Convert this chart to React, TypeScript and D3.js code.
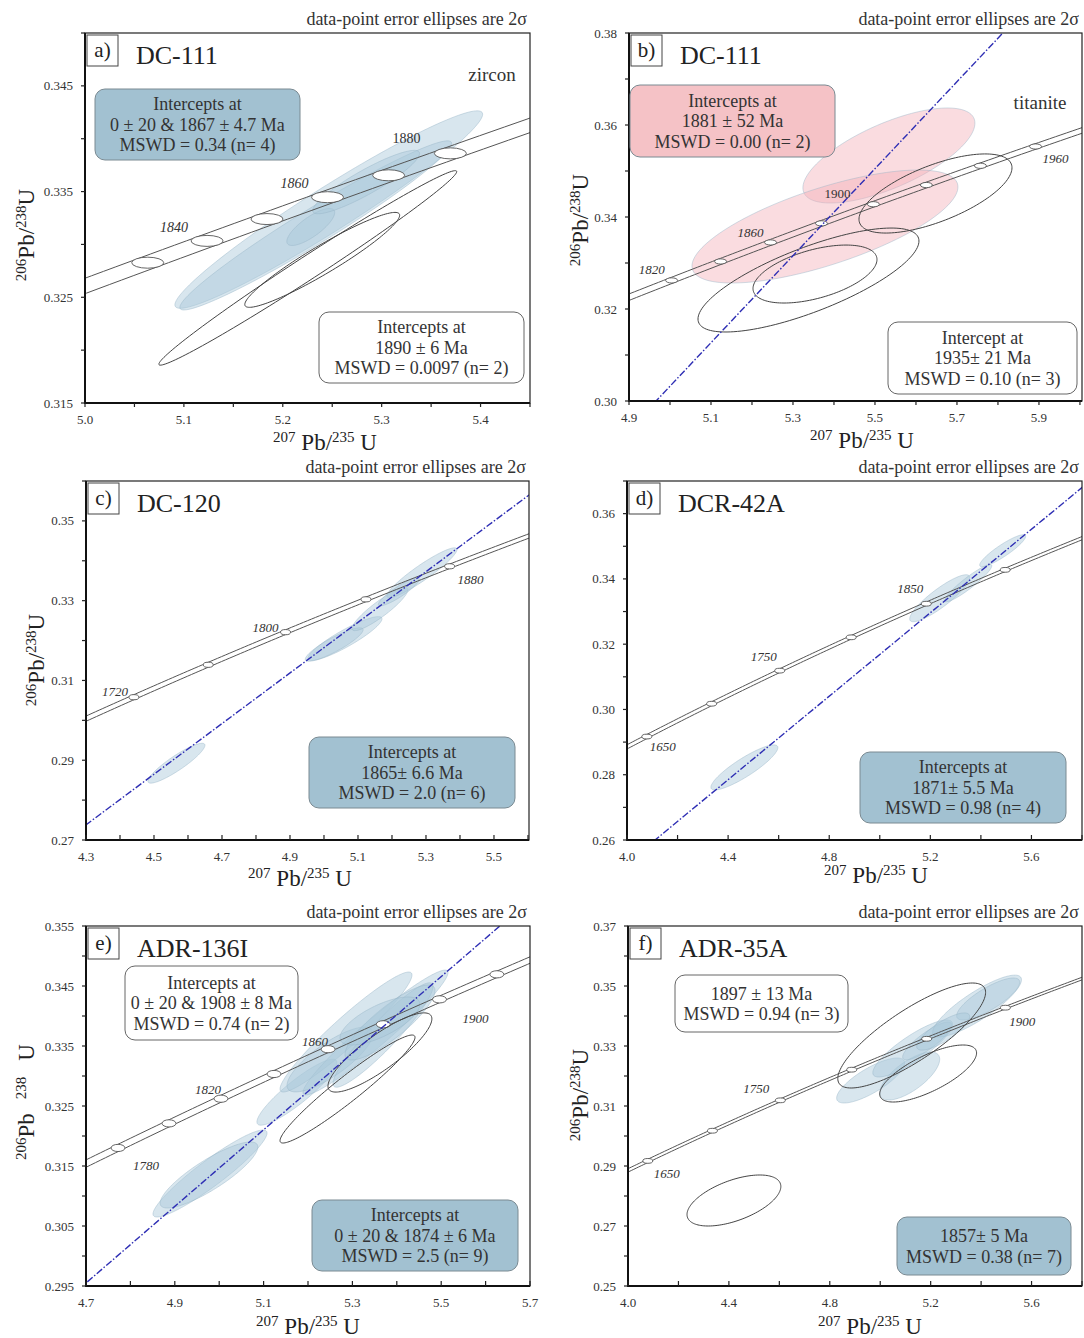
import React from 'react';
import * as d3 from 'd3';

const FONT = "'Liberation Serif', 'Times New Roman', Times, serif";
const LAMBDA238 = 1.55125e-4; // per Ma
const LAMBDA235 = 9.8485e-4; // per Ma

type Ell = [number, number, number, number, number]; // cx, cy, halfX, halfY, rho

// ---------- Panel a) DC-111 zircon ----------
const aFilled: Ell[] = [
  [5.2465, 0.3333, 0.1556, 0.00934, 0.965],
  [5.2333, 0.3318, 0.1374, 0.008, 0.97],
  [5.2283, 0.33165, 0.0242, 0.00175, 0.78],
  [5.2843, 0.3359, 0.054, 0.003, 0.9],
];
const aOpen: Ell[] = [
  [5.2253, 0.32778, 0.1506, 0.0092, 0.99],
  [5.2399, 0.32854, 0.0783, 0.00449, 0.94],
];
const aAges = [1830, 1840, 1850, 1860, 1870, 1880];
const aAgeLabels = [1840, 1860, 1880];
const aXTicks = [5.0, 5.1, 5.2, 5.3, 5.4];
const aYTicks = [0.315, 0.325, 0.335, 0.345];
const aBox1 = ['Intercepts at', '0 ± 20 & 1867 ± 4.7 Ma', 'MSWD = 0.34 (n= 4)'];
const aBox2 = ['Intercepts at', '1890 ± 6 Ma', 'MSWD = 0.0097 (n= 2)'];

// ---------- Panel b) DC-111 titanite ----------
const bFilled: Ell[] = [
  [5.534, 0.35337, 0.2098, 0.01033, 0.68],
  [5.378, 0.33793, 0.3244, 0.01228, 0.7],
];
const bOpen: Ell[] = [
  [5.3378, 0.3263, 0.2695, 0.0113, 0.75],
  [5.3537, 0.3276, 0.1512, 0.0063, 0.5],
  [5.6476, 0.34511, 0.1866, 0.0086, 0.65],
];
const bAges = [1820, 1840, 1860, 1880, 1900, 1920, 1940, 1960];
const bAgeLabels = [1820, 1860, 1900, 1960];
const bDiscordia = [4.966, 0.3, 5.812, 0.38];
const bXTicks = [4.9, 5.1, 5.3, 5.5, 5.7, 5.9];
const bYTicks = [0.3, 0.32, 0.34, 0.36, 0.38];
const bBox1 = ['Intercepts at', '1881 ± 52 Ma', 'MSWD = 0.00 (n= 2)'];
const bBox2 = ['Intercept at', '1935± 21 Ma', 'MSWD = 0.10 (n= 3)'];

// ---------- Panel c) DC-120 ----------
const cFilled: Ell[] = [
  [4.566, 0.28925, 0.0838, 0.005, 0.9],
  [5.0618, 0.3205, 0.1088, 0.0055, 0.9],
  [5.03, 0.319, 0.085, 0.0042, 0.88],
  [5.1647, 0.32788, 0.0823, 0.0054, 0.9],
  [5.288, 0.337, 0.103, 0.00625, 0.93],
  [5.22, 0.3322, 0.06, 0.0035, 0.9],
];
const cAges = [1720, 1760, 1800, 1840, 1880];
const cAgeLabels = [1720, 1800, 1880];
const cDiscordia = [4.3, 0.2738, 5.6, 0.3563];
const cXTicks = [4.3, 4.5, 4.7, 4.9, 5.1, 5.3, 5.5];
const cYTicks = [0.27, 0.29, 0.31, 0.33, 0.35];
const cBox1 = ['Intercepts at', '1865± 6.6 Ma', 'MSWD = 2.0 (n= 6)'];

// ---------- Panel d) DCR-42A ----------
const dFilled: Ell[] = [
  [5.237, 0.33408, 0.1186, 0.0072, 0.88],
  [5.35, 0.3387, 0.0929, 0.0057, 0.93],
  [5.4862, 0.34865, 0.0909, 0.0049, 0.9],
  [4.4644, 0.28224, 0.1324, 0.0069, 0.88],
];
const dAges = [1650, 1700, 1750, 1800, 1850, 1900];
const dAgeLabels = [1650, 1750, 1850];
const dDiscordia = [4.111, 0.26, 5.8, 0.368];
const dXTicks = [4.0, 4.4, 4.8, 5.2, 5.6];
const dYTicks = [0.26, 0.28, 0.3, 0.32, 0.34, 0.36];
const dBox1 = ['Intercepts at', '1871± 5.5 Ma', 'MSWD = 0.98 (n= 4)'];

// ---------- Panel e) ADR-136I ----------
const eFilled: Ell[] = [
  [4.9793, 0.31375, 0.1284, 0.00725, 0.93],
  [4.977, 0.3135, 0.11, 0.0055, 0.85],
  [5.175, 0.3273, 0.09, 0.0055, 0.9],
  [5.2856, 0.33733, 0.1486, 0.01, 0.95],
  [5.352, 0.33725, 0.1633, 0.0104, 0.96],
  [5.2496, 0.33275, 0.0968, 0.0054, 0.8],
  [5.3689, 0.33683, 0.1126, 0.0087, 0.93],
  [5.3847, 0.33892, 0.1014, 0.00625, 0.85],
  [5.362, 0.33917, 0.09, 0.004, 0.7],
];
const eOpen: Ell[] = [
  [5.289, 0.32783, 0.152, 0.009, 0.956],
  [5.362, 0.33392, 0.117, 0.0066, 0.85],
];
const eAges = [1780, 1800, 1820, 1840, 1860, 1880, 1900, 1920];
const eAgeLabels = [1780, 1820, 1860, 1900];
const eDiscordia = [4.7, 0.2955, 5.632, 0.355];
const eXTicks = [4.7, 4.9, 5.1, 5.3, 5.5, 5.7];
const eYTicks = [0.295, 0.305, 0.315, 0.325, 0.335, 0.345, 0.355];
const eBox1 = ['Intercepts at', '0 ± 20 & 1908 ± 8 Ma', 'MSWD = 0.74 (n= 2)'];
const eBox2 = ['Intercepts at', '0 ± 20 & 1874 ± 6 Ma', 'MSWD = 2.5 (n= 9)'];

// ---------- Panel f) ADR-35A ----------
const fFilled: Ell[] = [
  [4.962, 0.3185, 0.1347, 0.0075, 0.78],
  [5.117, 0.32, 0.1188, 0.008, 0.7],
  [5.1287, 0.32917, 0.158, 0.0095, 0.85],
  [5.186, 0.33167, 0.097, 0.0063, 0.85],
  [5.384, 0.34333, 0.176, 0.0103, 0.85],
  [5.428, 0.34567, 0.125, 0.007, 0.8],
  [5.2495, 0.33483, 0.105, 0.0062, 0.8],
];
const fOpen: Ell[] = [
  [5.1248, 0.3335, 0.293, 0.0175, 0.82],
  [5.19, 0.32083, 0.192, 0.0095, 0.72],
  [4.42, 0.2785, 0.186, 0.0085, 0.55],
];
const fAges = [1650, 1700, 1750, 1800, 1850, 1900];
const fAgeLabels = [1650, 1750, 1900];
const fXTicks = [4.0, 4.4, 4.8, 5.2, 5.6];
const fYTicks = [0.25, 0.27, 0.29, 0.31, 0.33, 0.35, 0.37];
const fBox1 = ['1897 ± 13 Ma', 'MSWD = 0.94 (n= 3)'];
const fBox2 = ['1857± 5 Ma', 'MSWD = 0.38 (n= 7)'];

const BLUE_BOX = '#a2c1d1';
const PINK_BOX = '#f5c2c6';
const BLUE_ELL = 'rgba(170,200,217,0.46)';
const PINK_ELL = 'rgba(242,172,180,0.42)';

interface Box { x: number; y: number; w: number; h: number; lines: string[]; fill: string | null; }
interface PanelCfg {
  id: string; sample: string; L: number; T: number; R: number; B: number;
  xDomain: [number, number]; yDomain: [number, number];
  xTicks: number[]; yTicks: number[]; xMinor: number; yMinor: number; yFmt: string;
  xTickOut: boolean;
  filled: Ell[]; open: Ell[]; ellFill: string;
  ages: number[]; ageLabels: number[]; labelOffsets: Record<number, [number, number]>; upright: number[];
  labelSize: number;
  band: number; mrx: number; mry: number;
  discordia: number[] | null;
  boxes: Box[];
  yLabel: [number, number] | null; yLabelBroken?: boolean;
  xLabel: [number, number];
  mineral?: [string, number, number];
}

const panels: PanelCfg[] = [
  {
    id: 'a)', sample: 'DC-111', L: 85, T: 33, R: 530, B: 403,
    xDomain: [5.0, 5.45], yDomain: [0.315, 0.35], xTicks: aXTicks, yTicks: aYTicks,
    xMinor: 0.05, yMinor: 0.005, yFmt: '.3f', xTickOut: true,
    filled: aFilled, open: aOpen, ellFill: BLUE_ELL,
    ages: aAges, ageLabels: aAgeLabels,
    labelOffsets: { 1840: [-33, -14], 1860: [-33, -14], 1880: [-44, -15] }, upright: [1880], labelSize: 14,
    band: 0.021, mrx: 16, mry: 5.5, discordia: null,
    boxes: [
      { x: 95, y: 89, w: 205, h: 71, lines: aBox1, fill: BLUE_BOX },
      { x: 319, y: 312, w: 205, h: 71, lines: aBox2, fill: null },
    ],
    yLabel: [34, 235], xLabel: [325, 450], mineral: ['zircon', 492, 81],
  },
  {
    id: 'b)', sample: 'DC-111', L: 629, T: 33, R: 1082, B: 401,
    xDomain: [4.9, 6.005], yDomain: [0.3, 0.38], xTicks: bXTicks, yTicks: bYTicks,
    xMinor: 0.1, yMinor: 0.01, yFmt: '.2f', xTickOut: true,
    filled: bFilled, open: bOpen, ellFill: PINK_ELL,
    ages: bAges, ageLabels: bAgeLabels,
    labelOffsets: { 1820: [-20, -11], 1860: [-20, -10], 1900: [-36, -11], 1960: [20, 12] }, upright: [1900], labelSize: 13,
    band: 0.02, mrx: 6, mry: 2.6, discordia: bDiscordia,
    boxes: [
      { x: 630, y: 85, w: 205, h: 72, lines: bBox1, fill: PINK_BOX },
      { x: 888, y: 322, w: 189, h: 72, lines: bBox2, fill: null },
    ],
    yLabel: [588, 220], xLabel: [862, 448], mineral: ['titanite', 1040, 109],
  },
  {
    id: 'c)', sample: 'DC-120', L: 86, T: 481, R: 529, B: 840,
    xDomain: [4.3, 5.603], yDomain: [0.27, 0.36], xTicks: cXTicks, yTicks: cYTicks,
    xMinor: 0.1, yMinor: 0.01, yFmt: '.2f', xTickOut: false,
    filled: cFilled, open: [], ellFill: BLUE_ELL,
    ages: cAges, ageLabels: cAgeLabels,
    labelOffsets: { 1720: [-19, -6], 1800: [-20, -5], 1880: [21, 13] }, upright: [], labelSize: 13,
    band: 0.017, mrx: 5, mry: 2.6, discordia: cDiscordia,
    boxes: [{ x: 309, y: 737, w: 206, h: 71, lines: cBox1, fill: BLUE_BOX }],
    yLabel: [44, 660], xLabel: [300, 886],
  },
  {
    id: 'd)', sample: 'DCR-42A', L: 627, T: 481, R: 1082, B: 840,
    xDomain: [4.0, 5.8], yDomain: [0.26, 0.37], xTicks: dXTicks, yTicks: dYTicks,
    xMinor: 0.2, yMinor: 0.01, yFmt: '.2f', xTickOut: false,
    filled: dFilled, open: [], ellFill: BLUE_ELL,
    ages: dAges, ageLabels: dAgeLabels,
    labelOffsets: { 1650: [16, 10], 1750: [-16, -14], 1850: [-16, -15] }, upright: [], labelSize: 13,
    band: 0.016, mrx: 5, mry: 2.4, discordia: dDiscordia,
    boxes: [{ x: 860, y: 752, w: 206, h: 71, lines: dBox1, fill: BLUE_BOX }],
    yLabel: null, xLabel: [876, 883],
  },
  {
    id: 'e)', sample: 'ADR-136I', L: 86, T: 926, R: 530, B: 1286,
    xDomain: [4.7, 5.7], yDomain: [0.295, 0.355], xTicks: eXTicks, yTicks: eYTicks,
    xMinor: 0.1, yMinor: 0.005, yFmt: '.3f', xTickOut: false,
    filled: eFilled, open: eOpen, ellFill: BLUE_ELL,
    ages: eAges, ageLabels: eAgeLabels,
    labelOffsets: { 1780: [28, 18], 1820: [-13, -9], 1860: [-13, -8], 1900: [36, 19] }, upright: [], labelSize: 13,
    band: 0.017, mrx: 7, mry: 3.6, discordia: eDiscordia,
    boxes: [
      { x: 125, y: 966, w: 173, h: 74, lines: eBox1, fill: null },
      { x: 312, y: 1200, w: 206, h: 71, lines: eBox2, fill: BLUE_BOX },
    ],
    yLabel: [34, 1102], yLabelBroken: true, xLabel: [308, 1334],
  },
  {
    id: 'f)', sample: 'ADR-35A', L: 628, T: 926, R: 1082, B: 1286,
    xDomain: [4.0, 5.8], yDomain: [0.25, 0.37], xTicks: fXTicks, yTicks: fYTicks,
    xMinor: 0.2, yMinor: 0.01, yFmt: '.2f', xTickOut: false,
    filled: fFilled, open: fOpen, ellFill: BLUE_ELL,
    ages: fAges, ageLabels: fAgeLabels,
    labelOffsets: { 1650: [19, 13], 1750: [-24, -12], 1900: [17, 14] }, upright: [], labelSize: 13,
    band: 0.014, mrx: 5, mry: 2.4, discordia: null,
    boxes: [
      { x: 675, y: 975, w: 173, h: 57, lines: fBox1, fill: null },
      { x: 897, y: 1217, w: 174, h: 58, lines: fBox2, fill: BLUE_BOX },
    ],
    yLabel: [588, 1095], xLabel: [870, 1334],
  },
];

function concordia(t: number): [number, number] {
  return [Math.exp(LAMBDA235 * t) - 1, Math.exp(LAMBDA238 * t) - 1];
}

function ellipsePts(e: Ell): [number, number][] {
  const [cx, cy, ex, ey, rho] = e;
  const s = Math.sqrt(1 - rho * rho);
  return d3.range(0, 144).map((i) => {
    const th = (i / 144) * Math.PI * 2;
    return [cx + ex * Math.cos(th), cy + ey * (rho * Math.cos(th) + s * Math.sin(th))] as [number, number];
  });
}

function Panel({ p }: { p: PanelCfg }) {
  const x = d3.scaleLinear().domain(p.xDomain).range([p.L, p.R]);
  const y = d3.scaleLinear().domain(p.yDomain).range([p.B, p.T]);
  const closed = d3.line<[number, number]>().x((d) => x(d[0])).y((d) => y(d[1])).curve(d3.curveLinearClosed);
  const open = d3.line<[number, number]>().x((d) => x(d[0])).y((d) => y(d[1]));
  const clipId = 'clip-' + p.id.replace(')', '');
  const tGrid = d3.range(1500, 2100, 2);
  const upper = tGrid.map((t) => { const c = concordia(t); return [c[0] - p.band, c[1]] as [number, number]; });
  const lower = tGrid.map((t) => { const c = concordia(t); return [c[0] + p.band, c[1]] as [number, number]; });
  const eps = 1e-9;
  const xMinorTicks = d3.range(p.xDomain[0], p.xDomain[1] + eps, p.xMinor);
  const yMinorTicks = d3.range(p.yDomain[0], p.yDomain[1] + eps, p.yMinor);
  const xFmt = d3.format('.1f');
  const yFmt = d3.format(p.yFmt);
  let disc: [number, number][] | null = null;
  if (p.discordia) {
    const [x1, y1, x2, y2] = p.discordia;
    disc = [[x1 - (x2 - x1) * 0.5, y1 - (y2 - y1) * 0.5], [x2 + (x2 - x1) * 0.5, y2 + (y2 - y1) * 0.5]];
  }
  const tickCol = '#222';
  return (
    <g>
      <defs>
        <clipPath id={clipId}>
          <rect x={p.L} y={p.T} width={p.R - p.L} height={p.B - p.T} />
        </clipPath>
      </defs>
      <text x={p.R - 3} y={p.T - 8} textAnchor="end" fontFamily={FONT} fontSize={18} fill="#333">
        data-point error ellipses are 2σ
      </text>
      <g clipPath={`url(#${clipId})`}>
        {p.filled.map((e, i) => (
          <path key={'f' + i} d={closed(ellipsePts(e)) || ''} fill={p.ellFill} stroke="rgba(150,180,198,0.55)" strokeWidth={0.8} />
        ))}
        <path d={open(upper) || ''} fill="none" stroke="#555" strokeWidth={1} />
        <path d={open(lower) || ''} fill="none" stroke="#555" strokeWidth={1} />
        {p.ages.map((t) => {
          const c = concordia(t);
          return <ellipse key={'m' + t} cx={x(c[0])} cy={y(c[1])} rx={p.mrx} ry={p.mry} fill="#fff" stroke="#555" strokeWidth={0.9} />;
        })}
        {p.open.map((e, i) => (
          <path key={'o' + i} d={closed(ellipsePts(e)) || ''} fill="none" stroke="#444" strokeWidth={1} />
        ))}
        {disc && (
          <path d={open(disc) || ''} fill="none" stroke="#2e2eb4" strokeWidth={1.4} strokeDasharray="7,2,1.5,2" />
        )}
      </g>
      {p.ageLabels.map((t) => {
        const c = concordia(t);
        const off = p.labelOffsets[t] || [0, 0];
        return (
          <text key={'l' + t} x={x(c[0]) + off[0]} y={y(c[1]) + off[1]} dy="0.35em" textAnchor="middle"
            fontFamily={FONT} fontSize={p.labelSize} fontStyle={p.upright.includes(t) ? 'normal' : 'italic'} fill="#333">
            {t}
          </text>
        );
      })}
      {/* frame */}
      <rect x={p.L} y={p.T} width={p.R - p.L} height={p.B - p.T} fill="none" stroke="#222" strokeWidth={1.2} />
      <line x1={p.L} y1={p.T} x2={p.L} y2={p.B + 1} stroke="#111" strokeWidth={2} />
      <line x1={p.L - 1} y1={p.B} x2={p.R} y2={p.B} stroke="#111" strokeWidth={2} />
      {/* ticks */}
      {xMinorTicks.map((v, i) => (
        <line key={'xt' + i} x1={x(v)} x2={x(v)} y1={p.B} y2={p.xTickOut ? p.B + 4 : p.B - 5} stroke={tickCol} strokeWidth={1.2} />
      ))}
      {yMinorTicks.map((v, i) => (
        <line key={'yt' + i} x1={p.L - 4} x2={p.L} y1={y(v)} y2={y(v)} stroke={tickCol} strokeWidth={1.2} />
      ))}
      {p.xTicks.map((v) => (
        <text key={'xl' + v} x={x(v)} y={p.B + 21} textAnchor="middle" fontFamily={FONT} fontSize={13} fill="#333">
          {xFmt(v)}
        </text>
      ))}
      {p.yTicks.map((v) => (
        <text key={'yl' + v} x={p.L - 12} y={y(v)} dy="0.35em" textAnchor="end" fontFamily={FONT} fontSize={13} fill="#333">
          {yFmt(v)}
        </text>
      ))}
      {/* panel id and sample */}
      <rect x={p.L + 2} y={p.T + 2} width={31} height={31} fill="#fff" stroke="#444" strokeWidth={1} />
      <text x={p.L + 17.5} y={p.T + 24} textAnchor="middle" fontFamily={FONT} fontSize={21} fill="#222">{p.id}</text>
      <text x={p.L + 51} y={p.T + 31} fontFamily={FONT} fontSize={26} fill="#222">{p.sample}</text>
      {p.mineral && (
        <text x={p.mineral[1]} y={p.mineral[2]} textAnchor="middle" fontFamily={FONT} fontSize={19} fill="#333">{p.mineral[0]}</text>
      )}
      {/* boxes */}
      {p.boxes.map((b, i) => {
        const n = b.lines.length;
        const y0 = b.y + b.h / 2 - ((n - 1) * 20.5) / 2;
        return (
          <g key={'b' + i}>
            <rect x={b.x} y={b.y} width={b.w} height={b.h} rx={10} ry={10}
              fill={b.fill || '#fff'} stroke={b.fill ? '#7a8a92' : '#666'} strokeWidth={1} />
            {b.lines.map((s, j) => (
              <text key={j} x={b.x + b.w / 2} y={y0 + j * 20.5} dy="0.35em" textAnchor="middle" fontFamily={FONT} fontSize={18} fill="#333">
                {s}
              </text>
            ))}
          </g>
        );
      })}
      {/* x label */}
      <text x={p.xLabel[0]} y={p.xLabel[1]} textAnchor="middle" fontFamily={FONT} fill="#222">
        <tspan fontSize={15} dy={-8}>207</tspan>
        <tspan fontSize={23} dy={8}>{' Pb/'}</tspan>
        <tspan fontSize={15} dy={-8}>235</tspan>
        <tspan fontSize={23} dy={8}>{' U'}</tspan>
      </text>
      {/* y label */}
      {p.yLabel && !p.yLabelBroken && (
        <text transform={`translate(${p.yLabel[0]},${p.yLabel[1]}) rotate(-90)`} textAnchor="middle" fontFamily={FONT} fill="#222">
          <tspan fontSize={15} dy={-8}>206</tspan>
          <tspan fontSize={23} dy={8}>Pb/</tspan>
          <tspan fontSize={15} dy={-8}>238</tspan>
          <tspan fontSize={23} dy={8}>U</tspan>
        </text>
      )}
      {p.yLabel && p.yLabelBroken && (
        <text transform={`translate(${p.yLabel[0]},${p.yLabel[1]}) rotate(-90)`} textAnchor="middle" fontFamily={FONT} fill="#222">
          <tspan fontSize={15} dy={-8}>206</tspan>
          <tspan fontSize={23} dy={8}>Pb</tspan>
          <tspan fontSize={15} dy={-8} dx={14}>238</tspan>
          <tspan fontSize={23} dy={8} dx={16}>U</tspan>
        </text>
      )}
    </g>
  );
}

export default function App() {
  return (
    <svg width={1084} height={1338} style={{ position: 'absolute', left: 0, top: 0, background: '#fff' }}>
      <rect x={0} y={0} width={1084} height={1338} fill="#fff" />
      {panels.map((p) => (
        <Panel key={p.id} p={p} />
      ))}
    </svg>
  );
}
